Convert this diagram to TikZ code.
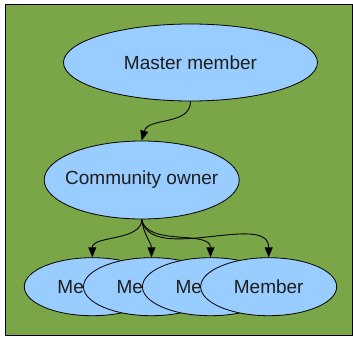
\documentclass[tikz,border=0pt]{standalone}
\usepackage{fontspec}
\setmainfont{Liberation Sans}
\usetikzlibrary{shapes.geometric,arrows.meta}
\definecolor{bggreen}{RGB}{123,166,72}
\definecolor{nodeblue}{RGB}{153,204,255}
\definecolor{txtgray}{RGB}{30,30,30}
\newcommand{\ctext}[1]{\makebox[0pt]{#1}}

\begin{document}
\begin{tikzpicture}[x=1pt,y=-1pt,
    oval/.style={ellipse,draw=black,line width=0.8pt,fill=nodeblue,inner sep=0pt,
      text=txtgray,font=\fontsize{19}{21}\selectfont},
    edge/.style={draw,line width=0.9pt,-{Triangle[length=10pt,width=8pt]}}]
  \useasboundingbox (0,0) rectangle (353,337);
  \draw[fill=bggreen,line width=1pt] (5,4.5) rectangle (352,335);
  % nodes
  \node[oval,minimum width=254pt,minimum height=77pt] (master) at (190.5,62.5) {\ctext{Master member}};
  \node[oval,minimum width=195pt,minimum height=78pt] (owner) at (141.7,180) {\ctext{Community owner}};
  \foreach \i/\x in {1/92.3,2/151.5,3/210.5,4/268.7}
    \node[oval,minimum width=136pt,minimum height=58pt] (m\i) at (\x,286.7) {\ctext{Member}};
  % edges
  \draw[edge] (master.south) to[out=-90,in=75] (owner.north);
  \draw[edge] (owner.south) to[out=-90,in=90,looseness=0.9] (m1.north);
  \draw[edge] (owner.south) to[out=-85,in=90,looseness=0.9] (m2.north);
  \draw[edge] (owner.south) to[out=-80,in=90,looseness=0.9] (m3.north);
  \draw[edge] (owner.south) to[out=-80,in=90,looseness=0.9] (m4.north);
\end{tikzpicture}
\end{document}
